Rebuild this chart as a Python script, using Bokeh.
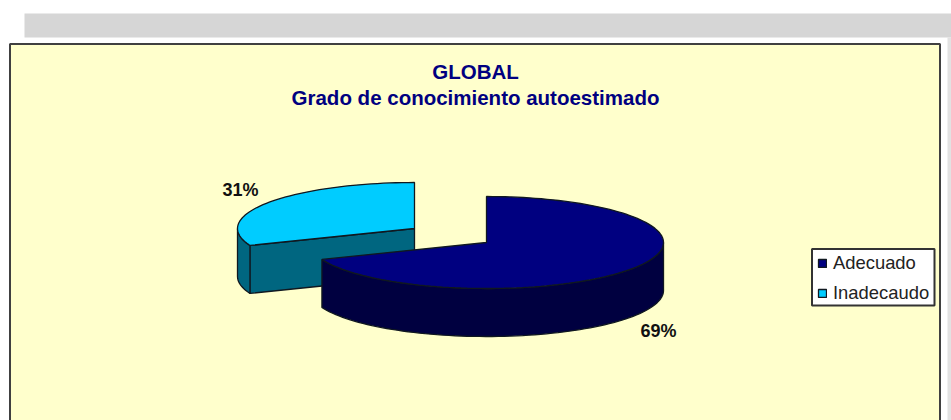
import math
from bokeh.embed import file_html
from bokeh.resources import INLINE
from bokeh.plotting import figure
from bokeh.models import Legend, LegendItem
from bokeh.core.properties import value

title_lines = ["GLOBAL", "Grado de conocimiento autoestimado"]
categories = ["Adecuado", "Inadecaudo"]
values = [69, 31]
pct_labels = ["69%", "31%"]

TOP = ["#000080", "#00CCFF"]
SIDE = ["#000040", "#006680"]
EDGE = "#101820"
CENTERS = [(486, 242), (414, 228)]
RX, RY, DEPTH = 177, 46, 48
FONT = value("Liberation Sans")

p = figure(width=951, height=420, x_range=(0, 951), y_range=(420, 0),
           output_backend="svg", toolbar_location=None,
           min_border=0, outline_line_color=None, border_fill_color="white")
p.axis.visible = False
p.grid.visible = False
p.background_fill_color = "white"

# page furniture
p.quad(left=[24], right=[951], top=[13], bottom=[37], fill_color="#D6D6D6", line_color=None)
p.quad(left=[947], right=[951], top=[37], bottom=[420], fill_color="#E2E2E2", line_color=None)
p.quad(left=[9.5], right=[939.5], top=[43.5], bottom=[440], fill_color="#FFFFCC",
       line_color="#404040", line_width=2)


def pt(c, deg, dy=0):
    a = math.radians(deg)
    return c[0] + RX * math.sin(a), c[1] - RY * math.cos(a) + dy


def arc(c, a0, a1, dy=0):
    n = max(2, int(abs(a1 - a0) / 2))
    return [pt(c, a0 + (a1 - a0) * i / n, dy) for i in range(n + 1)]


total = sum(values)
spans = []
start = 0.0
for v in values:
    spans.append((start, start + 360.0 * v / total))
    start += 360.0 * v / total


def poly(points, fill):
    xs, ys = zip(*points)
    return p.patch(list(xs), list(ys), fill_color=fill, line_color=EDGE, line_width=1.3)


tops = {}
for i in (1, 0):  # rear slice first
    c = CENTERS[i]
    a0, a1 = spans[i]
    if i == 1:
        e = pt(c, a0)
        poly([c, e, (e[0], e[1] + DEPTH), (c[0], c[1] + DEPTH)], SIDE[i])
    w0, w1 = max(a0, 90), min(a1, 270)
    if w1 > w0:
        poly(arc(c, w0, w1) + arc(c, w1, w0, DEPTH), SIDE[i])
    tops[i] = poly([c] + arc(c, a0, a1), TOP[i])

for txt, y in zip(title_lines, [71, 97]):
    p.text([475], [y], text=[txt], text_font=FONT, text_font_size="20.5px", text_font_style="bold",
           text_color="#000080", text_align="center", text_baseline="middle")

p.text([658, 240], [330, 189], text=pct_labels, text_font=FONT, text_font_size="18px",
       text_font_style="bold", text_color="#111111", text_align="center", text_baseline="middle")

# legend frame, with the library's legend inside it
p.quad(left=[811.5], right=[934], top=[248.5], bottom=[305], fill_color="white",
       line_color="#333333", line_width=2)
legend = Legend(items=[LegendItem(label=categories[i], renderers=[tops[i]]) for i in range(2)],
                location=(817, 116), orientation="vertical", margin=0,
                padding=0, spacing=8, glyph_width=10, glyph_height=10, label_standoff=6,
                label_text_font="Liberation Sans", label_text_font_size="18.4px",
                label_text_color="#222222", border_line_color=None,
                background_fill_alpha=0)
p.add_layout(legend)

open("out.html", "w").write(file_html(p, INLINE))
